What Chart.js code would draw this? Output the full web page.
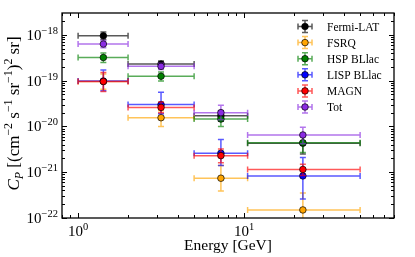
<!DOCTYPE html>
<html>
<head>
<meta charset="UTF-8">
<title>C_P per energy bin</title>
<style>
  html, body { margin: 0; padding: 0; background: #fff; }
  #wrap { width: 415px; height: 257px; }
</style>
</head>
<body>
<div id="wrap"><canvas id="myChart"></canvas></div>
<script src="https://cdn.jsdelivr.net/npm/chart.js@4.4.1/dist/chart.umd.min.js"></script>
<script>
// energy bins [GeV]
var binLo = [1, 2, 5, 10.5];
var binHi = [2, 5, 10.5, 50];
var binMid = [1.42, 3.16, 7.25, 22.6];

var names = ["Fermi-LAT", "FSRQ", "HSP BLlac", "LISP BLlac", "MAGN", "Tot"];
var colors = ["#000000", "#ffa500", "#008000", "#0000ff", "#ff0000", "#8a2be2"];

// C_P and the low / high ends of its error bar, one value per bin
var fermi   = [9.5e-19, 2.3e-19, 1.7e-20, 4.3e-21];
var fermiLo = [7.9e-19, 1.95e-19, 1.3e-20, 2.5e-21];
var fermiHi = [1.15e-18, 2.7e-19, 2.2e-20, 6.2e-21];

var fsrq    = [9.6e-20, 1.55e-20, 7.4e-22, 1.5e-22];
var fsrqLo  = [6.5e-20, 1.0e-20, 3.9e-22, 5e-23];
var fsrqHi  = [1.4e-19, 2.2e-20, 1.4e-21, 3.5e-22];

var hsp     = [3.2e-19, 1.25e-19, 1.45e-20, 4.4e-21];
var hspLo   = [2.5e-19, 9.8e-20, 1.0e-20, 2.7e-21];
var hspHi   = [4.0e-19, 1.55e-19, 1.9e-20, 6.4e-21];

var lisp    = [9.8e-20, 3.0e-20, 2.6e-21, 8.3e-22];
var lispLo  = [6.0e-20, 1.9e-20, 1.4e-21, 2.6e-22];
var lispHi  = [1.7e-19, 5.6e-20, 5.2e-21, 2.1e-21];

var magn    = [9.6e-20, 2.6e-20, 2.3e-21, 1.15e-21];
var magnLo  = [5.8e-20, 2.0e-20, 1.6e-21, 8.5e-22];
var magnHi  = [1.5e-19, 3.4e-20, 3.2e-21, 1.5e-21];

var tot     = [6.3e-19, 2.05e-19, 2.0e-20, 6.5e-21];
var totLo   = [5.2e-19, 1.75e-19, 1.4e-20, 4.2e-21];
var totHi   = [7.5e-19, 2.4e-19, 2.9e-20, 9.6e-21];

// axis labels
var xMajor = [1, 10];
var xMajorExp = ["0", "1"];
var yMajor = [1e-22, 1e-21, 1e-20, 1e-19, 1e-18];
var yMajorExp = ["\u221222", "\u221221", "\u221220", "\u221219", "\u221218"];

var series = [
    {val: fermi, lo: fermiLo, hi: fermiHi},
    {val: fsrq, lo: fsrqLo, hi: fsrqHi},
    {val: hsp, lo: hspLo, hi: hspHi},
    {val: lisp, lo: lispLo, hi: lispHi},
    {val: magn, lo: magnLo, hi: magnHi},
    {val: tot, lo: totLo, hi: totHi}
];

var SERIF = '"Liberation Serif", "DejaVu Serif", serif';

function withAlpha(hex, a) {
    var r = parseInt(hex.substr(1, 2), 16), g = parseInt(hex.substr(3, 2), 16), b = parseInt(hex.substr(5, 2), 16);
    return "rgba(" + r + "," + g + "," + b + "," + a + ")";
}

// text with super/subscripts, drawn left to right from (x, y) baseline
function richWidth(ctx, parts, size) {
    var w = 0;
    parts.forEach(function (p) {
        var s = (p.sup || p.sub) ? size * 0.7 : size;
        ctx.font = (p.it ? "italic " : "") + s + "px " + SERIF;
        w += ctx.measureText(p.t).width;
    });
    return w;
}
function richDraw(ctx, parts, x, y, size) {
    parts.forEach(function (p) {
        var s = (p.sup || p.sub) ? size * 0.7 : size;
        var dy = p.sup ? -size * 0.4 : (p.sub ? size * 0.22 : 0);
        ctx.font = (p.it ? "italic " : "") + s + "px " + SERIF;
        ctx.fillText(p.t, x, y + dy);
        x += ctx.measureText(p.t).width;
    });
}

var errorBars = {
    id: 'errorBars',
    beforeDatasetDraw: function (chart, args) {
        var i = args.index, s = series[i];
        var xs = chart.scales.x, ys = chart.scales.y, ctx = chart.ctx, a = chart.chartArea;
        var cap = 3;
        ctx.save();
        ctx.beginPath();
        ctx.rect(a.left, a.top, a.right - a.left, a.bottom - a.top);
        ctx.clip();
        ctx.strokeStyle = withAlpha(colors[i], 0.65);
        ctx.lineWidth = 1.5;
        ctx.beginPath();
        for (var k = 0; k < binMid.length; k++) {
            var px = xs.getPixelForValue(binMid[k]);
            var py = ys.getPixelForValue(s.val[k]);
            var x0 = xs.getPixelForValue(binLo[k]), x1 = xs.getPixelForValue(binHi[k]);
            var y0 = ys.getPixelForValue(s.lo[k]), y1 = ys.getPixelForValue(s.hi[k]);
            ctx.moveTo(x0, py); ctx.lineTo(x1, py);
            ctx.moveTo(px, y0); ctx.lineTo(px, y1);
            ctx.moveTo(x0, py - cap); ctx.lineTo(x0, py + cap);
            ctx.moveTo(x1, py - cap); ctx.lineTo(x1, py + cap);
            ctx.moveTo(px - cap, y0); ctx.lineTo(px + cap, y0);
            ctx.moveTo(px - cap, y1); ctx.lineTo(px + cap, y1);
        }
        ctx.stroke();
        ctx.restore();
    }
};

var axesDeco = {
    id: 'axesDeco',
    afterDraw: function (chart) {
        var xs = chart.scales.x, ys = chart.scales.y, ctx = chart.ctx, a = chart.chartArea;
        ctx.save();
        ctx.strokeStyle = "#000";
        ctx.lineWidth = 1;
        ctx.beginPath();
        // x ticks, bottom and top, pointing inward
        for (var d = -1; d <= 1; d++) {
            for (var m = 1; m <= 9; m++) {
                var v = m * Math.pow(10, d);
                if (v < xs.min || v > xs.max) continue;
                var px = Math.round(xs.getPixelForValue(v)) + 0.5;
                var len = m === 1 ? 5 : 3;
                ctx.moveTo(px, a.bottom); ctx.lineTo(px, a.bottom - len);
                ctx.moveTo(px, a.top); ctx.lineTo(px, a.top + len);
            }
        }
        // y ticks, left and right
        for (var e = -23; e <= -18; e++) {
            for (var n = 1; n <= 9; n++) {
                var w = n * Math.pow(10, e);
                if (w < ys.min * 0.999 || w > ys.max) continue;
                var py = Math.round(ys.getPixelForValue(w)) + 0.5;
                var ln = n === 1 ? 5 : 3;
                ctx.moveTo(a.left, py); ctx.lineTo(a.left + ln, py);
                ctx.moveTo(a.right, py); ctx.lineTo(a.right - ln, py);
            }
        }
        ctx.stroke();
        ctx.lineWidth = 1.3;
        ctx.strokeRect(a.left, a.top, a.right - a.left, a.bottom - a.top);

        ctx.fillStyle = "#000";
        ctx.textAlign = "left";
        ctx.textBaseline = "alphabetic";
        var fs = 15;
        // y tick labels
        yMajor.forEach(function (v, i) {
            var parts = [{t: "10"}, {t: yMajorExp[i], sup: true}];
            var wd = richWidth(ctx, parts, fs);
            var py = ys.getPixelForValue(v);
            richDraw(ctx, parts, a.left - 4 - wd, py + 5, fs);
        });
        // x tick labels
        xMajor.forEach(function (v, i) {
            var parts = [{t: "10"}, {t: xMajorExp[i], sup: true}];
            var wd = richWidth(ctx, parts, fs);
            var px = xs.getPixelForValue(v);
            richDraw(ctx, parts, px - wd / 2, a.bottom + 17.5, fs);
        });
        // x title
        var xt = [{t: "Energy [GeV]"}];
        var xw = richWidth(ctx, xt, 15.5);
        richDraw(ctx, xt, (a.left + a.right) / 2 - xw / 2, a.bottom + 32, 15.5);
        // y title
        var yt = [{t: "C", it: true}, {t: "P", it: true, sub: true}, {t: " [(cm"}, {t: "\u22122", sup: true},
            {t: " s"}, {t: "\u22121", sup: true}, {t: " sr"}, {t: "\u22121", sup: true}, {t: ")"},
            {t: "2", sup: true}, {t: " sr]"}];
        var ysz = 17;
        var yw = richWidth(ctx, yt, ysz);
        ctx.save();
        ctx.translate(19, (a.top + a.bottom) / 2 - 2);
        ctx.rotate(-Math.PI / 2);
        richDraw(ctx, yt, -yw / 2, 0, ysz);
        ctx.restore();

        // legend, top right inside the axes
        names.forEach(function (name, i) {
            var ly = a.top + 13.5 + i * 16.1;
            var lx = a.right - 89;
            ctx.strokeStyle = withAlpha(colors[i], 0.65);
            ctx.lineWidth = 1.5;
            ctx.beginPath();
            ctx.moveTo(lx - 7, ly); ctx.lineTo(lx + 7, ly);
            ctx.moveTo(lx - 7, ly - 3); ctx.lineTo(lx - 7, ly + 3);
            ctx.moveTo(lx + 7, ly - 3); ctx.lineTo(lx + 7, ly + 3);
            ctx.moveTo(lx, ly - 6); ctx.lineTo(lx, ly + 6);
            ctx.moveTo(lx - 3, ly - 6); ctx.lineTo(lx + 3, ly - 6);
            ctx.moveTo(lx - 3, ly + 6); ctx.lineTo(lx + 3, ly + 6);
            ctx.stroke();
            ctx.beginPath();
            ctx.arc(lx, ly, 3.3, 0, Math.PI * 2);
            ctx.fillStyle = colors[i];
            ctx.fill();
            ctx.lineWidth = 0.7;
            ctx.strokeStyle = "#000";
            ctx.stroke();
            ctx.fillStyle = "#000";
            ctx.font = "11.5px " + SERIF;
            ctx.fillText(name, a.right - 67, ly + 4);
        });
        ctx.restore();
    }
};

var datasets = names.map(function (name, i) {
    return {
        label: name,
        data: binMid.map(function (x, k) { return {x: x, y: series[i].val[k]}; }),
        pointRadius: 3.3,
        pointHoverRadius: 3.3,
        pointBackgroundColor: colors[i],
        pointBorderColor: "#000",
        pointBorderWidth: 0.7,
        showLine: false,
        order: names.length - 1 - i
    };
});

var ctx = document.getElementById("myChart");
var myChart = new Chart(ctx, {
    type: 'scatter',
    data: {datasets: datasets},
    options: {
        responsive: true,
        maintainAspectRatio: false,
        animation: false,
        layout: {padding: {left: 62, right: 21, top: 13, bottom: 39}},
        plugins: {legend: {display: false}, tooltip: {enabled: false}},
        scales: {
            x: {type: 'logarithmic', min: 0.8, max: 80, display: false},
            y: {type: 'logarithmic', min: 1e-22, max: 3e-18, display: false}
        }
    },
    plugins: [errorBars, axesDeco]
});
</script>
</body>
</html>
